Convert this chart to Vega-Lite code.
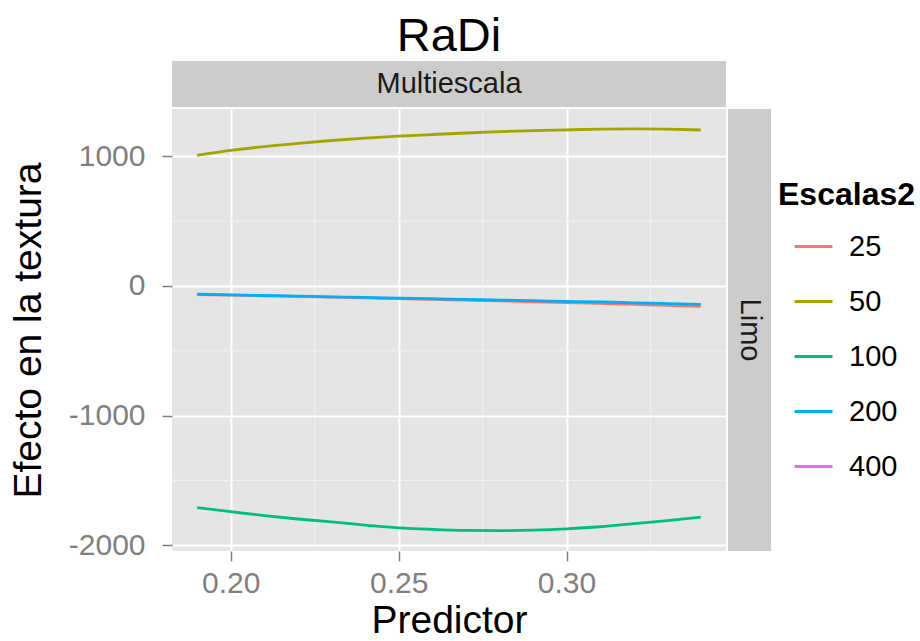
{
  "$schema": "https://vega.github.io/schema/vega-lite/v6.json",
  "background": "white",
  "padding": {"left": 9, "top": 13, "right": 0, "bottom": 0},
  "config": {
    "font": "Liberation Sans",
    "view": {"stroke": null},
    "axis": {
      "domain": false,
      "labelFont": "Liberation Sans",
      "labelFontSize": 30,
      "labelColor": "#7F7F7F",
      "tickColor": "#7F7F7F",
      "tickSize": 10,
      "tickWidth": 1.5,
      "gridColor": "#FFFFFF",
      "gridWidth": 2,
      "titleFont": "Liberation Sans",
      "titleFontSize": 39,
      "titleFontWeight": "normal",
      "titleColor": "#000000"
    }
  },
  "datasets": {
    "curves": [
      {"Predictor": 0.19, "Efecto": -66, "Escalas2": "25"},
      {"Predictor": 0.20, "Efecto": -71, "Escalas2": "25"},
      {"Predictor": 0.21, "Efecto": -76, "Escalas2": "25"},
      {"Predictor": 0.22, "Efecto": -81, "Escalas2": "25"},
      {"Predictor": 0.23, "Efecto": -86, "Escalas2": "25"},
      {"Predictor": 0.24, "Efecto": -92, "Escalas2": "25"},
      {"Predictor": 0.25, "Efecto": -98, "Escalas2": "25"},
      {"Predictor": 0.26, "Efecto": -104, "Escalas2": "25"},
      {"Predictor": 0.27, "Efecto": -110, "Escalas2": "25"},
      {"Predictor": 0.28, "Efecto": -116, "Escalas2": "25"},
      {"Predictor": 0.29, "Efecto": -122, "Escalas2": "25"},
      {"Predictor": 0.30, "Efecto": -128, "Escalas2": "25"},
      {"Predictor": 0.31, "Efecto": -135, "Escalas2": "25"},
      {"Predictor": 0.32, "Efecto": -142, "Escalas2": "25"},
      {"Predictor": 0.33, "Efecto": -150, "Escalas2": "25"},
      {"Predictor": 0.34, "Efecto": -158, "Escalas2": "25"},
      {"Predictor": 0.19, "Efecto": 1008, "Escalas2": "50"},
      {"Predictor": 0.20, "Efecto": 1045, "Escalas2": "50"},
      {"Predictor": 0.21, "Efecto": 1075, "Escalas2": "50"},
      {"Predictor": 0.22, "Efecto": 1100, "Escalas2": "50"},
      {"Predictor": 0.23, "Efecto": 1122, "Escalas2": "50"},
      {"Predictor": 0.24, "Efecto": 1140, "Escalas2": "50"},
      {"Predictor": 0.25, "Efecto": 1155, "Escalas2": "50"},
      {"Predictor": 0.26, "Efecto": 1168, "Escalas2": "50"},
      {"Predictor": 0.27, "Efecto": 1180, "Escalas2": "50"},
      {"Predictor": 0.28, "Efecto": 1190, "Escalas2": "50"},
      {"Predictor": 0.29, "Efecto": 1198, "Escalas2": "50"},
      {"Predictor": 0.30, "Efecto": 1204, "Escalas2": "50"},
      {"Predictor": 0.31, "Efecto": 1209, "Escalas2": "50"},
      {"Predictor": 0.32, "Efecto": 1211, "Escalas2": "50"},
      {"Predictor": 0.33, "Efecto": 1209, "Escalas2": "50"},
      {"Predictor": 0.34, "Efecto": 1203, "Escalas2": "50"},
      {"Predictor": 0.19, "Efecto": -1711, "Escalas2": "100"},
      {"Predictor": 0.20, "Efecto": -1742, "Escalas2": "100"},
      {"Predictor": 0.21, "Efecto": -1772, "Escalas2": "100"},
      {"Predictor": 0.22, "Efecto": -1798, "Escalas2": "100"},
      {"Predictor": 0.23, "Efecto": -1820, "Escalas2": "100"},
      {"Predictor": 0.24, "Efecto": -1845, "Escalas2": "100"},
      {"Predictor": 0.25, "Efecto": -1866, "Escalas2": "100"},
      {"Predictor": 0.26, "Efecto": -1878, "Escalas2": "100"},
      {"Predictor": 0.27, "Efecto": -1886, "Escalas2": "100"},
      {"Predictor": 0.28, "Efecto": -1888, "Escalas2": "100"},
      {"Predictor": 0.29, "Efecto": -1884, "Escalas2": "100"},
      {"Predictor": 0.30, "Efecto": -1874, "Escalas2": "100"},
      {"Predictor": 0.31, "Efecto": -1858, "Escalas2": "100"},
      {"Predictor": 0.32, "Efecto": -1834, "Escalas2": "100"},
      {"Predictor": 0.33, "Efecto": -1810, "Escalas2": "100"},
      {"Predictor": 0.34, "Efecto": -1783, "Escalas2": "100"},
      {"Predictor": 0.19, "Efecto": -64, "Escalas2": "200"},
      {"Predictor": 0.20, "Efecto": -69, "Escalas2": "200"},
      {"Predictor": 0.21, "Efecto": -74, "Escalas2": "200"},
      {"Predictor": 0.22, "Efecto": -79, "Escalas2": "200"},
      {"Predictor": 0.23, "Efecto": -84, "Escalas2": "200"},
      {"Predictor": 0.24, "Efecto": -89, "Escalas2": "200"},
      {"Predictor": 0.25, "Efecto": -94, "Escalas2": "200"},
      {"Predictor": 0.26, "Efecto": -99, "Escalas2": "200"},
      {"Predictor": 0.27, "Efecto": -104, "Escalas2": "200"},
      {"Predictor": 0.28, "Efecto": -109, "Escalas2": "200"},
      {"Predictor": 0.29, "Efecto": -114, "Escalas2": "200"},
      {"Predictor": 0.30, "Efecto": -119, "Escalas2": "200"},
      {"Predictor": 0.31, "Efecto": -124, "Escalas2": "200"},
      {"Predictor": 0.32, "Efecto": -130, "Escalas2": "200"},
      {"Predictor": 0.33, "Efecto": -136, "Escalas2": "200"},
      {"Predictor": 0.34, "Efecto": -143, "Escalas2": "200"}
    ],
    "minorX": [{"gx": 0.225}, {"gx": 0.275}, {"gx": 0.325}],
    "minorY": [{"gy": -1500}, {"gy": -500}, {"gy": 500}]
  },
  "columns": 2,
  "align": "each",
  "bounds": "flush",
  "spacing": {"row": 2, "column": 2},
  "concat": [
    {
      "title": {"text": "RaDi", "fontSize": 47, "fontWeight": "normal", "color": "#000000", "anchor": "middle", "offset": 0},
      "width": 554,
      "height": 46,
      "view": {"fill": "#CCCCCC", "stroke": null},
      "data": {"values": [{"strip": "Multiescala"}]},
      "mark": {"type": "text", "fontSize": 29, "color": "#1A1A1A", "baseline": "middle", "align": "center"},
      "encoding": {"text": {"field": "strip"}}
    },
    {
      "width": 43,
      "height": 46,
      "data": {"values": [{"strip": ""}]},
      "mark": {"type": "text"},
      "encoding": {"text": {"field": "strip"}}
    },
    {
      "width": 554,
      "height": 442,
      "view": {"fill": "#E5E5E5", "stroke": null},
      "layer": [
        {
          "data": {"name": "minorX"},
          "mark": {"type": "rule", "color": "#F2F2F2", "strokeWidth": 1},
          "encoding": {"x": {"field": "gx", "type": "quantitative"}}
        },
        {
          "data": {"name": "minorY"},
          "mark": {"type": "rule", "color": "#F2F2F2", "strokeWidth": 1},
          "encoding": {"y": {"field": "gy", "type": "quantitative"}}
        },
        {
          "data": {"name": "curves"},
          "mark": {"type": "line", "strokeWidth": 2.8, "interpolate": "monotone"},
          "encoding": {
            "x": {
              "field": "Predictor",
              "type": "quantitative",
              "scale": {"domain": [0.1825, 0.3475], "nice": false, "zero": false},
              "axis": {"values": [0.2, 0.25, 0.3], "format": ".2f", "title": "Predictor", "labelPadding": 7, "titlePadding": 3}
            },
            "y": {
              "field": "Efecto",
              "type": "quantitative",
              "scale": {"domain": [-2045, 1365], "nice": false, "zero": false},
              "axis": {"values": [-2000, -1000, 0, 1000], "labelExpr": "'' + datum.value", "title": "Efecto en la textura", "labelPadding": 17, "titlePadding": 20}
            },
            "color": {
              "field": "Escalas2",
              "type": "nominal",
              "scale": {"domain": ["25", "50", "100", "200", "400"], "range": ["#F8766D", "#A3A500", "#00BF7D", "#00B0F6", "#E76BF3"]},
              "legend": {
                "title": "Escalas2",
                "orient": "none",
                "legendX": 606,
                "legendY": 119,
                "titleFontSize": 32,
                "titleFontWeight": "bold",
                "titleColor": "#000000",
                "titlePadding": 14,
                "labelFontSize": 29,
                "labelColor": "#000000",
                "labelOffset": 15,
                "symbolType": "stroke",
                "symbolSize": 1444,
                "symbolStrokeWidth": 2.8,
                "symbolOffset": 15,
                "rowPadding": 19
              }
            }
          }
        }
      ]
    },
    {
      "width": 43,
      "height": 442,
      "view": {"fill": "#CCCCCC", "stroke": null},
      "data": {"values": [{"strip": "Limo"}]},
      "mark": {"type": "text", "fontSize": 29, "color": "#1A1A1A", "angle": 90, "baseline": "middle", "align": "center"},
      "encoding": {"text": {"field": "strip"}}
    }
  ]
}
